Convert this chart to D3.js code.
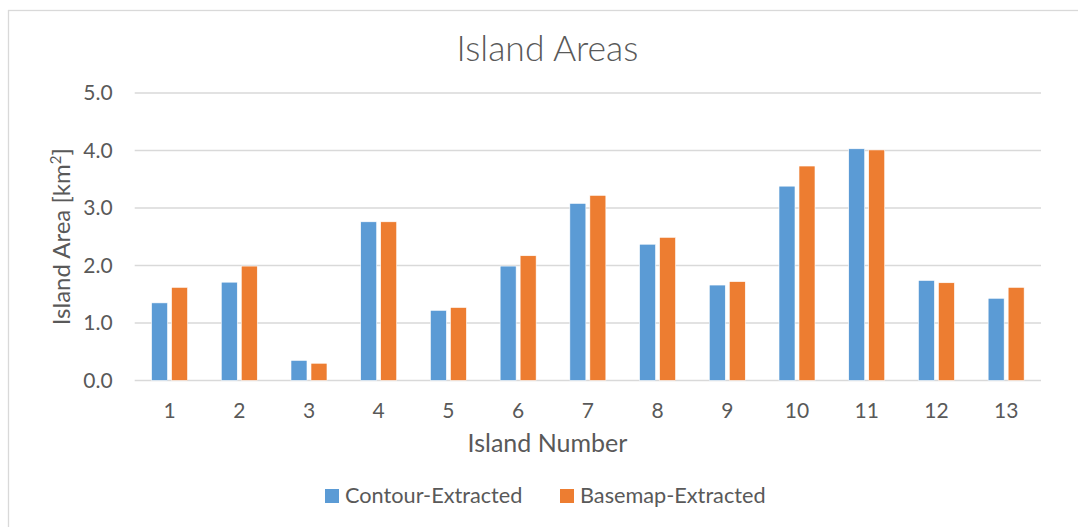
<!DOCTYPE html>
<html>
<head>
<meta charset="utf-8">
<script src="https://cdn.jsdelivr.net/npm/d3@7"></script>
<style>
  html, body { margin: 0; padding: 0; background: #fff; }
  svg text { font-family: Lato, "Open Sans", sans-serif; fill: #595959; }
</style>
</head>
<body>
<div id="chart"></div>
<script>
// Chart values
var islands  = ["1","2","3","4","5","6","7","8","9","10","11","12","13"],
    series   = ["Contour-Extracted", "Basemap-Extracted"],
    contour  = [1.35, 1.71, 0.35, 2.76, 1.22, 1.99, 3.08, 2.37, 1.66, 3.38, 4.03, 1.74, 1.43],
    basemap  = [1.62, 1.99, 0.30, 2.76, 1.27, 2.17, 3.22, 2.49, 1.72, 3.73, 4.01, 1.70, 1.62],
    yTicks   = [0, 1, 2, 3, 4, 5],
    colors   = ["#5B9BD5", "#ED7D31"];

var width  = 1078,
    height = 527,
    // plot area inside the frame
    plot = {"left": 134.7, "right": 1041, "top": 93, "bottom": 380.5},
    // horizontal centre of the whole chart box (title, axis title, legend)
    midX = 547.5;

var svg = d3.select("#chart")
  .append("svg")
    .attr("width", width)
    .attr("height", height);

// chart frame (runs off the right and bottom of the picture)
svg.append("rect")
  .attr("x", 8.5).attr("y", 10.5)
  .attr("width", width + 20).attr("height", height + 20)
  .attr("fill", "#fff")
  .attr("stroke", "#d9d9d9")
  .attr("stroke-width", 1.3);

var y = d3.scaleLinear()
  .domain([0, 5])
  .range([plot.bottom, plot.top]);

var x0 = d3.scaleBand()
  .domain(islands)
  .range([plot.left, plot.right]);

var groupWidth = 36;
var x1 = d3.scaleBand()
  .domain(series)
  .range([0, groupWidth])
  .paddingInner(0.2);

var color = d3.scaleOrdinal().domain(series).range(colors);

// gridlines
svg.append("g")
  .attr("class", "grid")
  .selectAll("line")
  .data(yTicks)
  .enter()
  .append("line")
    .attr("x1", plot.left).attr("x2", plot.right)
    .attr("y1", function(d){ return y(d); })
    .attr("y2", function(d){ return y(d); })
    .attr("stroke", "#d9d9d9")
    .attr("stroke-width", 1.3);

// y axis labels
var yAxis = svg.append("g")
  .attr("transform", "translate(" + (plot.left - 22) + ",0)")
  .call(d3.axisLeft(y).tickValues(yTicks).tickSize(0).tickPadding(0)
          .tickFormat(d3.format(".1f")));
yAxis.select(".domain").remove();
yAxis.selectAll("text")
  .attr("font-size", "21px")
  .attr("font-family", "Lato, sans-serif")
  .attr("fill", "#595959");

// bars
var rows = islands.map(function(k, i){
  return {"island": k, "values": [
    {"series": series[0], "value": contour[i]},
    {"series": series[1], "value": basemap[i]}
  ]};
});

svg.append("g")
  .selectAll("g")
  .data(rows)
  .enter()
  .append("g")
    .attr("transform", function(d){
      return "translate(" + (x0(d.island) + x0.bandwidth()/2 - groupWidth/2) + ",0)";
    })
  .selectAll("rect")
  .data(function(d){ return d.values; })
  .enter()
  .append("rect")
    .attr("x", function(d){ return x1(d.series); })
    .attr("y", function(d){ return y(d.value); })
    .attr("width", x1.bandwidth())
    .attr("height", function(d){ return y(0) - y(d.value); })
    .attr("fill", function(d){ return color(d.series); })
    .attr("stroke", "#fff")
    .attr("stroke-width", 0.6);

// x axis labels
var xAxis = svg.append("g")
  .attr("transform", "translate(0," + plot.bottom + ")")
  .call(d3.axisBottom(x0).tickSize(0).tickPadding(23));
xAxis.select(".domain").remove();
xAxis.selectAll("text")
  .attr("font-size", "21px")
  .attr("font-family", "Lato, sans-serif")
  .attr("fill", "#595959");

// title
svg.append("text")
  .attr("x", midX)
  .attr("y", 61)
  .attr("text-anchor", "middle")
  .attr("font-size", "35.5px")
  .attr("font-weight", 300)
  .text("Island Areas");

// axis titles
svg.append("text")
  .attr("x", midX)
  .attr("y", 452)
  .attr("text-anchor", "middle")
  .attr("font-size", "25px")
  .text("Island Number");

var yTitle = svg.append("text")
  .attr("transform", "translate(70," + ((plot.top + plot.bottom) / 2) + ") rotate(-90)")
  .attr("text-anchor", "middle")
  .attr("font-size", "24px")
  .text("Island Area [km");
yTitle.append("tspan").attr("font-size", "15px").attr("dy", -9).text("2");
yTitle.append("tspan").attr("dy", 9).text("]");

// legend
var legendX = [325, 560];
var legend = svg.append("g")
  .selectAll("g")
  .data(series)
  .enter()
  .append("g")
    .attr("transform", function(d, i){ return "translate(" + legendX[i] + ",489)"; });

legend.append("rect")
  .attr("width", 14).attr("height", 14)
  .attr("fill", function(d){ return color(d); });

legend.append("text")
  .attr("x", 20)
  .attr("y", 14)
  .attr("font-size", "21.7px")
  .text(function(d){ return d; });
</script>
</body>
</html>
